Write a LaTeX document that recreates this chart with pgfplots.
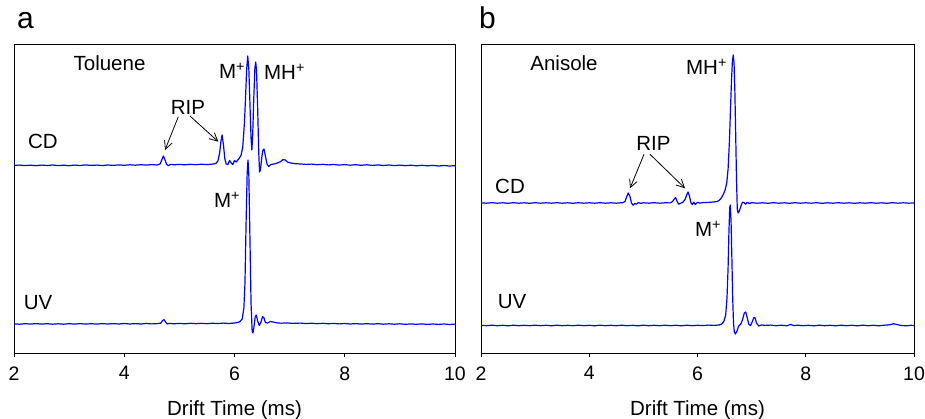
\documentclass[border=0pt]{standalone}
\usepackage{pgfplots}
\pgfplotsset{compat=1.18}
\usepackage{fontspec}
\setmainfont{Liberation Sans}
\usetikzlibrary{arrows.meta}
\definecolor{trace}{RGB}{0,0,255}
\pgfplotsset{
  myaxis/.style={
    scale only axis, height=309pt,
    xmin=2, xmax=10, ymin=0, ymax=309,
    xtick={2,4,6,8,10}, ytick=\empty,
    xtick pos=bottom, tick align=outside, major tick length=4pt,
    axis line style={line width=0.8pt}, every tick/.style={black, line width=0.8pt},
    /pgf/number format/assume math mode=true,
    tick label style={font=\fontsize{19.5}{22}\selectfont},
    xticklabel style={yshift=-6pt},
  },
  trc/.style={trace, line width=1.2pt, line join=round, mark=none},
}
\begin{document}
\begin{tikzpicture}[x=1pt,y=1pt]
\path[use as bounding box] (0,0) rectangle (925,419);
% ---------- panel a ----------
\begin{axis}[myaxis, at={(14pt,66pt)}, anchor=south west, width=441pt]
\addplot[trc] coordinates {(2.0,187.6)(2.1,187.9)(2.2,187.4)(2.3,187.8)(2.4,187.3)(2.5,187.9)(2.6,187.5)(2.7,188.0)(2.8,187.4)(2.9,187.8)(3.0,187.3)(3.1,187.9)(3.2,187.5)(3.3,188.1)(3.4,187.6)(3.5,187.9)(3.6,187.4)(3.7,188.0)(3.8,187.6)(3.9,188.1)(4.0,187.7)(4.1,188.2)(4.2,187.8)(4.3,188.3)(4.4,187.9)(4.5,188.4)(4.6,188.0)(4.65,189.0)(4.68,193)(4.71,197)(4.74,193)(4.77,188.5)(4.80,187.4)(4.84,188.6)(4.9,188.2)(5.0,188.6)(5.1,188.2)(5.2,188.7)(5.3,188.3)(5.4,188.8)(5.5,188.4)(5.6,188.9)(5.66,189.5)(5.70,192)(5.73,200)(5.755,212)(5.775,218)(5.80,208)(5.825,194)(5.85,189)(5.88,188.5)(5.91,192.5)(5.94,190)(5.97,188.5)(6.00,192.5)(6.03,191)(6.06,193)(6.09,195)(6.12,198)(6.15,206)(6.18,230)(6.20,255)(6.22,283)(6.24,297)(6.26,284)(6.28,250)(6.30,215)(6.315,203)(6.33,218)(6.35,255)(6.37,285)(6.385,291)(6.40,282)(6.42,245)(6.44,200)(6.455,181)(6.47,183)(6.49,193)(6.51,202)(6.535,204)(6.56,197)(6.59,189)(6.62,186.5)(6.66,188.5)(6.72,189)(6.78,190)(6.84,191.5)(6.88,193.5)(6.92,193)(6.96,191)(7.02,190)(7.1,189.3)(7.2,189.0)(7.3,188.6)(7.4,188.9)(7.5,188.3)(7.6,188.7)(7.7,188.1)(7.8,188.5)(7.9,187.9)(8.0,188.4)(8.1,187.8)(8.2,188.3)(8.3,187.7)(8.4,188.2)(8.5,187.6)(8.6,188.1)(8.7,187.5)(8.8,188.0)(8.9,187.4)(9.0,187.9)(9.1,187.3)(9.2,187.8)(9.3,187.2)(9.4,187.7)(9.5,187.2)(9.6,187.6)(9.7,187.0)(9.8,187.5)(9.9,187.0)(10.0,187.3)};
\addplot[trc] coordinates {(2.0,29.2)(2.1,28.8)(2.2,29.3)(2.3,28.9)(2.4,29.4)(2.5,28.9)(2.6,29.3)(2.7,28.8)(2.8,29.2)(2.9,28.8)(3.0,29.3)(3.1,28.9)(3.2,29.4)(3.3,28.9)(3.4,29.3)(3.5,28.9)(3.6,29.4)(3.7,29.0)(3.8,29.4)(3.9,29.0)(4.0,29.5)(4.1,29.0)(4.2,29.4)(4.3,29.0)(4.4,29.5)(4.5,29.1)(4.6,29.4)(4.66,29.8)(4.69,32)(4.72,33.5)(4.75,31)(4.78,29)(4.82,29.6)(4.9,29.2)(5.0,29.6)(5.1,29.2)(5.2,29.7)(5.3,29.3)(5.4,29.7)(5.5,29.3)(5.6,29.8)(5.7,29.4)(5.8,29.9)(5.9,29.5)(6.0,30.0)(6.06,30.5)(6.10,31.5)(6.14,34)(6.17,45)(6.19,70)(6.21,130)(6.23,180)(6.245,193)(6.26,178)(6.28,115)(6.30,50)(6.32,22)(6.335,20)(6.35,25)(6.375,36)(6.395,38)(6.42,32)(6.45,27.5)(6.48,31)(6.51,36.5)(6.535,35)(6.56,30.5)(6.60,30)(6.65,31.5)(6.70,31)(6.76,30.2)(6.85,29.8)(6.95,30.1)(7.05,29.6)(7.2,29.9)(7.3,29.4)(7.4,29.8)(7.5,29.3)(7.6,29.7)(7.7,29.2)(7.8,29.6)(7.9,29.1)(8.0,29.5)(8.1,29.0)(8.2,29.4)(8.3,28.9)(8.4,29.3)(8.5,28.9)(8.6,29.3)(8.7,28.8)(8.8,29.2)(8.9,28.8)(9.0,29.2)(9.1,28.7)(9.2,29.1)(9.3,28.7)(9.4,29.1)(9.5,28.6)(9.6,29.0)(9.7,28.6)(9.8,29.0)(9.9,28.5)(10.0,28.9)};
\end{axis}
% ---------- panel b ----------
\begin{axis}[myaxis, at={(481pt,66pt)}, anchor=south west, width=433pt]
\addplot[trc] coordinates {(2.0,150.2)(2.1,149.8)(2.2,150.3)(2.3,149.8)(2.4,150.2)(2.5,149.7)(2.6,150.3)(2.7,149.8)(2.8,150.2)(2.9,149.7)(3.0,150.3)(3.1,149.8)(3.2,150.2)(3.3,149.8)(3.4,150.3)(3.5,149.8)(3.6,150.2)(3.7,149.7)(3.8,150.3)(3.9,149.8)(4.0,150.2)(4.1,149.8)(4.2,150.3)(4.3,149.8)(4.4,150.2)(4.5,149.8)(4.58,150.2)(4.62,150.3)(4.66,151.5)(4.69,156)(4.72,160)(4.75,157)(4.78,150)(4.81,147.8)(4.84,149.5)(4.87,148.8)(4.91,150.5)(4.95,149.6)(5.0,150.2)(5.1,149.8)(5.2,150.3)(5.3,149.8)(5.4,150.2)(5.5,150.1)(5.54,151.5)(5.57,154)(5.595,155.5)(5.62,152)(5.65,148.8)(5.69,149.8)(5.73,150.8)(5.77,153.5)(5.80,158)(5.825,161)(5.85,157)(5.88,150)(5.905,148.5)(5.93,150.8)(5.96,148.6)(6.00,150.6)(6.05,149.9)(6.10,150.4)(6.2,150.6)(6.3,151)(6.36,151.5)(6.40,152.5)(6.44,155)(6.48,159)(6.51,163)(6.54,170)(6.565,184)(6.59,212)(6.61,245)(6.63,275)(6.645,292)(6.66,298)(6.675,290)(6.69,262)(6.705,220)(6.72,175)(6.735,144)(6.75,140)(6.775,142.3)(6.80,146.5)(6.83,150.8)(6.86,150.5)(6.89,148.8)(6.92,150.6)(6.96,149.5)(7.0,150.3)(7.1,149.8)(7.2,150.2)(7.3,149.7)(7.4,150.3)(7.5,149.8)(7.6,150.2)(7.7,149.7)(7.8,150.3)(7.9,149.8)(8.0,150.2)(8.1,149.8)(8.2,150.3)(8.3,149.7)(8.4,150.2)(8.5,149.8)(8.6,150.3)(8.7,149.8)(8.8,150.2)(8.9,149.7)(9.0,150.2)(9.1,149.8)(9.2,150.3)(9.3,149.8)(9.4,150.2)(9.5,149.7)(9.6,150.3)(9.7,149.8)(9.8,150.2)(9.9,149.8)(10.0,150.1)};
\addplot[trc] coordinates {(2.0,27.7)(2.1,27.3)(2.2,27.8)(2.3,27.3)(2.4,27.7)(2.5,27.2)(2.6,27.8)(2.7,27.3)(2.8,27.7)(2.9,27.3)(3.0,27.8)(3.1,27.3)(3.2,27.7)(3.3,27.2)(3.4,27.8)(3.5,27.3)(3.6,27.7)(3.7,27.3)(3.8,27.8)(3.9,27.3)(4.0,27.7)(4.1,27.2)(4.2,27.8)(4.3,27.3)(4.4,27.7)(4.5,27.3)(4.6,27.8)(4.7,27.3)(4.8,27.7)(4.9,27.2)(5.0,27.8)(5.1,27.3)(5.2,27.7)(5.3,27.3)(5.4,27.8)(5.5,27.3)(5.6,27.7)(5.7,27.2)(5.8,27.8)(5.9,27.3)(6.0,27.7)(6.1,27.4)(6.2,27.9)(6.3,27.6)(6.40,28)(6.45,29)(6.49,32)(6.52,38)(6.545,55)(6.565,85)(6.58,120)(6.595,145)(6.605,148)(6.62,132)(6.635,95)(6.65,55)(6.665,30)(6.68,21)(6.70,19)(6.73,22)(6.76,27)(6.80,29)(6.83,33)(6.865,40)(6.89,41)(6.92,35)(6.95,28.5)(6.98,27.5)(7.01,31)(7.04,35.5)(7.065,35)(7.09,30)(7.13,27)(7.18,28)(7.25,27.6)(7.35,27.9)(7.45,27.3)(7.55,27.8)(7.65,27.2)(7.72,28.6)(7.78,27.4)(7.85,27.8)(7.95,27.3)(8.05,27.7)(8.15,27.2)(8.25,27.8)(8.35,27.3)(8.45,27.7)(8.55,27.2)(8.65,27.8)(8.75,27.3)(8.85,27.7)(8.95,27.2)(9.05,27.8)(9.15,27.3)(9.25,27.7)(9.35,27.2)(9.45,27.8)(9.55,28.2)(9.62,29.2)(9.68,28.6)(9.75,27.6)(9.85,27.2)(9.95,27.7)(10.0,27.4)};
\end{axis}
% ---------- annotations ----------
\begin{scope}[every node/.style={font=\fontsize{20.5}{24}\selectfont, inner sep=0pt}]
\node[font=\fontsize{30}{36}\selectfont, anchor=base west] at (17,390) {a};
\node[font=\fontsize{30}{36}\selectfont, anchor=base west] at (479,390) {b};
\node at (109.5,356) {Toluene};
\node at (564,356) {Anisole};
\node at (43,277.5) {CD};
\node at (38,116) {UV};
\node at (510,233) {CD};
\node at (512,117) {UV};
\node at (232,348) {M\textsuperscript{+}};
\node at (284.5,347) {MH\textsuperscript{+}};
\node at (188,311.5) {RIP};
\node at (227,219) {M\textsuperscript{+}};
\node at (706.5,352) {MH\textsuperscript{+}};
\node at (653.5,276) {RIP};
\node at (708,190) {M\textsuperscript{+}};
\node[anchor=base] at (234.5,3) {Drift Time (ms)};
\node[anchor=base] at (697.5,3) {Drift Time (ms)};
\end{scope}
\begin{scope}[line width=0.8pt, -{Straight Barb[length=8pt,width=8pt]}]
\draw (178.3,302.3) -- (165,269);
\draw (190,303) -- (218.3,277.3);
\draw (644,264.7) -- (630,230.7);
\draw (650,264.7) -- (685,230.7);
\end{scope}
\end{tikzpicture}
\end{document}
